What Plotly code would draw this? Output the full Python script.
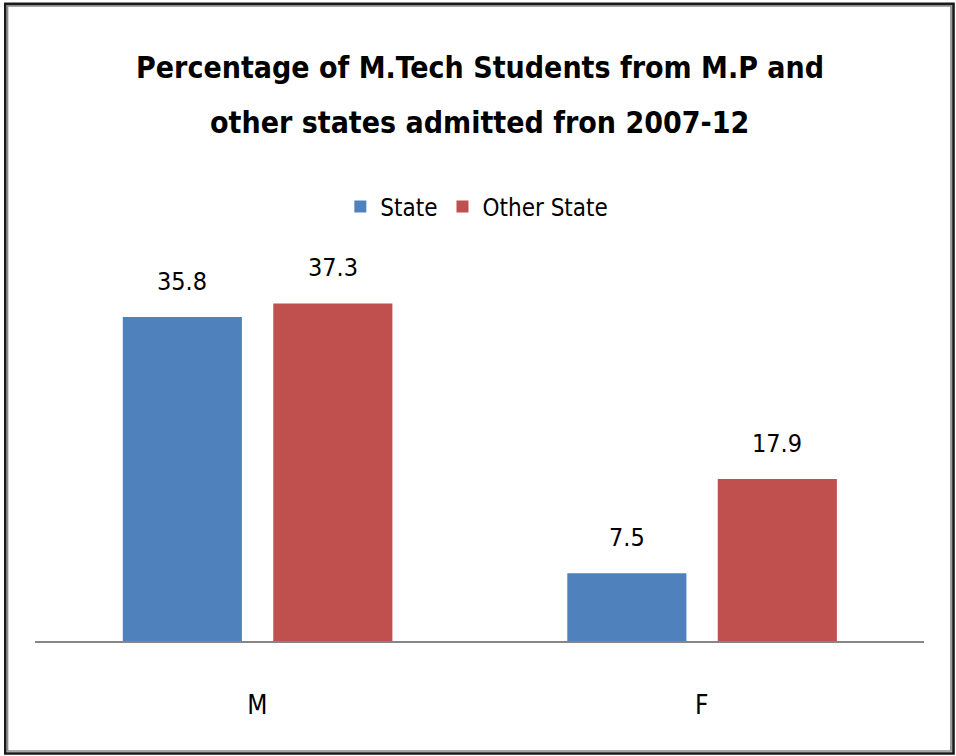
import plotly.graph_objects as go

categories = ["M", "F"]
state_values = [35.8, 7.5]
other_values = [37.3, 17.9]
series_names = ["State", "Other State"]
title_lines = ["Percentage of M.Tech Students from M.P and", "other states admitted fron 2007-12"]

W, H = 956, 756
L, R, T, B = 35, 32, 255, 115
PW, PH = W - L - R, H - T - B

def px(x):
    return (x - L) / PW

def py(y):
    return (H - B - y) / PH

FONT = "DejaVu Sans Condensed, sans-serif"
BLUE = "#4F81BD"
RED = "#C0504D"

bar_w = 0.268
offsets = [-0.3025, 0.036]
colors = [BLUE, RED]
series = [state_values, other_values]

fig = go.Figure()
for name, vals, off, col in zip(series_names, series, offsets, colors):
    fig.add_trace(go.Bar(
        x=categories, y=vals, name=name, width=bar_w, offset=off,
        marker=dict(color=col, line=dict(width=0)),
    ))

annotations = []
for vals, off in zip(series, offsets):
    for i, v in enumerate(vals):
        annotations.append(dict(
            x=i + off + bar_w / 2, y=v, xref="x", yref="y",
            text=f"{v:.1f}", showarrow=False, yanchor="bottom", yshift=19,
            font=dict(family=FONT, size=25, color="#000000"),
        ))

annotations.append(dict(x=0.5, y=py(67), xref="paper", yref="paper", text=title_lines[0],
                        showarrow=False, xanchor="center", yanchor="middle",
                        font=dict(family=FONT, size=30, color="#000000", weight="bold")))
annotations.append(dict(x=0.5, y=py(123), xref="paper", yref="paper", text=title_lines[1],
                        showarrow=False, xanchor="center", yanchor="middle",
                        font=dict(family=FONT, size=30, color="#000000", weight="bold")))

shapes = [
    dict(type="rect", xref="paper", yref="paper", x0=px(5.3), x1=px(953.5), y0=py(753.5), y1=py(3.8),
         line=dict(color="#1a1a1a", width=2.6), fillcolor="rgba(0,0,0,0)", layer="above"),
    dict(type="rect", xref="paper", yref="paper", x0=px(7.5), x1=px(951), y0=py(751), y1=py(5.8),
         line=dict(color="#8c8c8c", width=1.7), fillcolor="rgba(0,0,0,0)", layer="above"),
]

fig.update_layout(
    width=W, height=H,
    margin=dict(l=L, r=R, t=T, b=B, pad=0),
    paper_bgcolor="white", plot_bgcolor="white",
    barmode="overlay",
    showlegend=True,
    legend=dict(orientation="h", x=0.497, y=py(207), xanchor="center", yanchor="middle",
                font=dict(family=FONT, size=24, color="#000000"), itemwidth=30,
                bgcolor="rgba(0,0,0,0)"),
    xaxis=dict(type="category", showgrid=False, showline=True, linecolor="#868686", linewidth=2,
               ticks="", tickfont=dict(family=FONT, size=26, color="#000000"),
               ticklabelstandoff=40, range=[-0.5, 1.5], zeroline=False, fixedrange=True),
    yaxis=dict(range=[0, PH / 9.05], showgrid=False, showline=False, showticklabels=False,
               ticks="", zeroline=False, fixedrange=True),
    annotations=annotations,
    shapes=shapes,
    font=dict(family=FONT),
)

fig.write_html("out.html")
